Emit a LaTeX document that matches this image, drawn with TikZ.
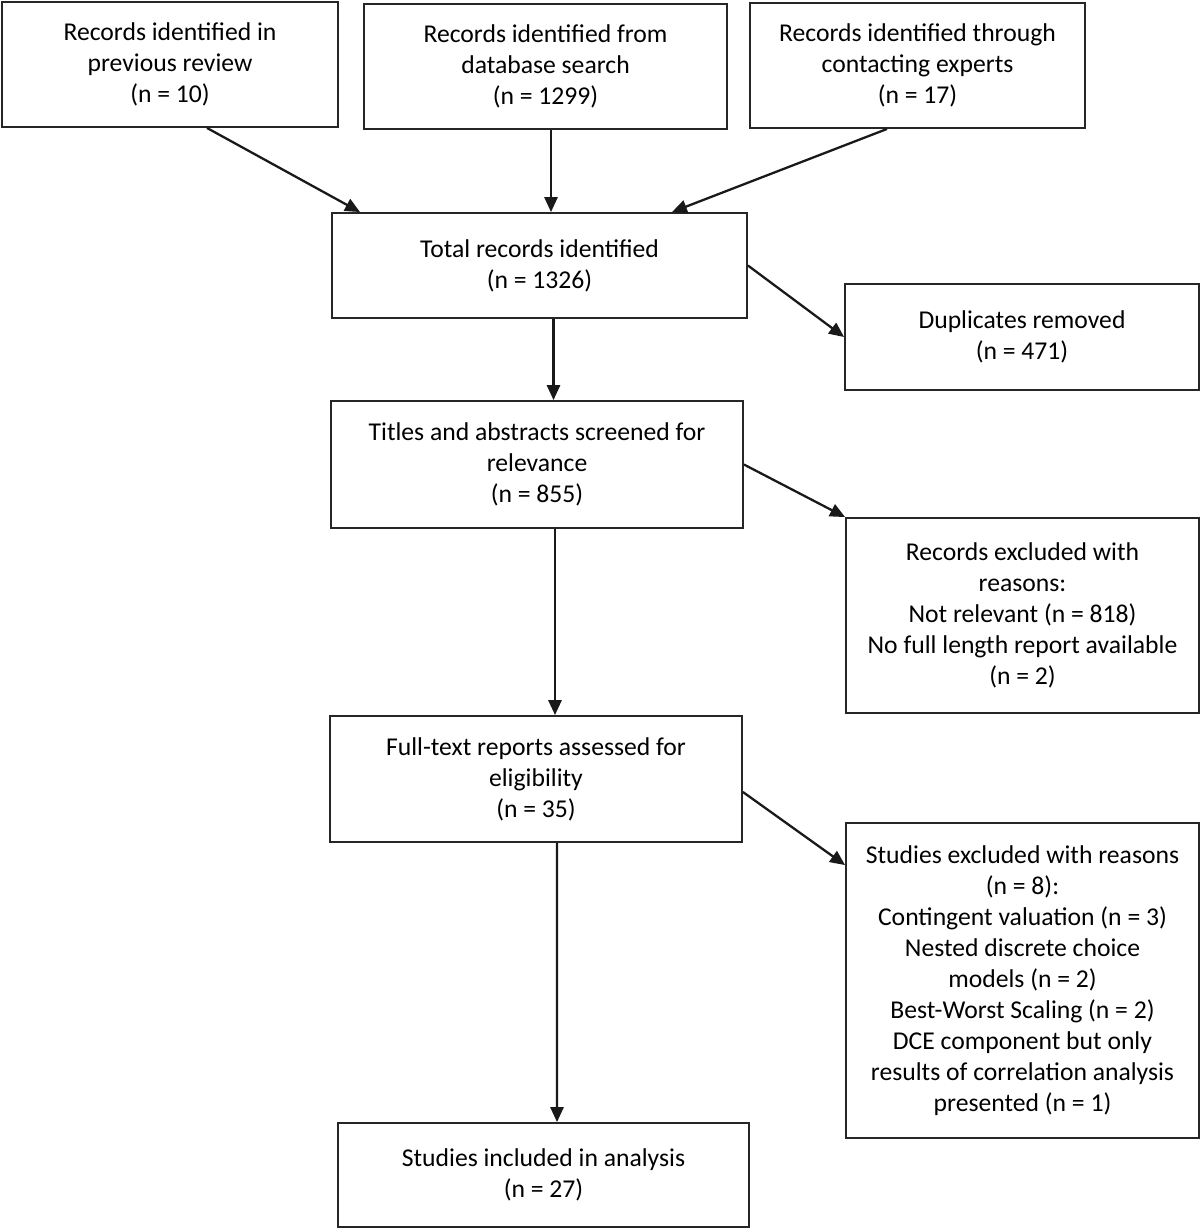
\documentclass[tikz,border=0pt]{standalone}
\usepackage{fontspec}
\setmainfont{Carlito}
\usetikzlibrary{positioning,calc,arrows.meta}

\begin{document}
\begin{tikzpicture}[x=0.02cm, y=-0.02cm, font=\fontsize{14.6}{17.6}\selectfont,
    box/.style={draw=black!85, line width=1.1pt, align=center, inner sep=2pt},
    arr/.style={draw=black!90, line width=1.3pt, -{Triangle[length=8.5pt,width=7.5pt]}}]
  \useasboundingbox (0,0) rectangle (1200,1228);

  % Sources
  \node[box, minimum width=6.72cm, minimum height=2.5cm] (prev) at (170,64.5) {Records identified in\\previous review\\(n = 10)};
  \node[box, minimum width=7.26cm, minimum height=2.5cm] (dbase) at (545.5,66.5) {Records identified from\\database search\\(n = 1299)};
  \node[box, minimum width=6.7cm, minimum height=2.5cm] (experts) at (917.5,65.5) {Records identified through\\contacting experts\\(n = 17)};

  % Main column
  \node[box, minimum width=8.3cm, minimum height=2.1cm] (total) at (539.5,265.5) {Total records identified\\(n = 1326)};
  \node[box, minimum width=8.24cm, minimum height=2.54cm] (titles) at (537,464.5) {Titles and abstracts screened for\\relevance\\(n = 855)};
  \node[box, minimum width=8.24cm, minimum height=2.52cm] (fulltext) at (536,779) {Full-text reports assessed for\\eligibility\\(n = 35)};
  \node[box, minimum width=8.22cm, minimum height=2.08cm] (included) at (543.5,1175) {Studies included in analysis\\(n = 27)};

  % Exclusions
  \node[box, minimum width=7.08cm, minimum height=2.12cm] (dupl) at (1022,337) {Duplicates removed\\(n = 471)};
  \node[box, minimum width=7.06cm, minimum height=3.9cm] (recexcl) at (1022.5,615.5) {Records excluded with\\reasons:\\Not relevant (n = 818)\\No full length report available\\(n = 2)};
  \node[box, minimum width=7.06cm, minimum height=6.3cm] (studexcl) at (1022.5,980.5) {Studies excluded with reasons\\(n = 8):\\Contingent valuation (n = 3)\\Nested discrete choice\\models (n = 2)\\Best-Worst Scaling (n = 2)\\DCE component but only\\results of correlation analysis\\presented (n = 1)};

  % Connections
  \draw[arr] ($(prev.south)+(37,0)$) -- ($(total.north)+(-179.5,0)$);
  \draw[arr] ($(dbase.south)+(5.5,0)$) -- ($(total.north)+(11.5,0)$);
  \draw[arr] ($(experts.south)+(-30.5,0)$) -- ($(total.north)+(132.5,0)$);
  \draw[arr] ($(total.south)+(14,0)$) -- ($(titles.north)+(16.5,0)$);
  \draw[arr] (total.east) -- (dupl.west);
  \draw[arr] (titles.east) -- (recexcl.north west);
  \draw[arr] ($(titles.south)+(18,0)$) -- ($(fulltext.north)+(19,0)$);
  \draw[arr] ($(fulltext.east)+(0,13)$) -- ($(studexcl.north west)+(0,43)$);
  \draw[arr] ($(fulltext.south)+(21,0)$) -- ($(included.north)+(13.5,0)$);
\end{tikzpicture}
\end{document}
